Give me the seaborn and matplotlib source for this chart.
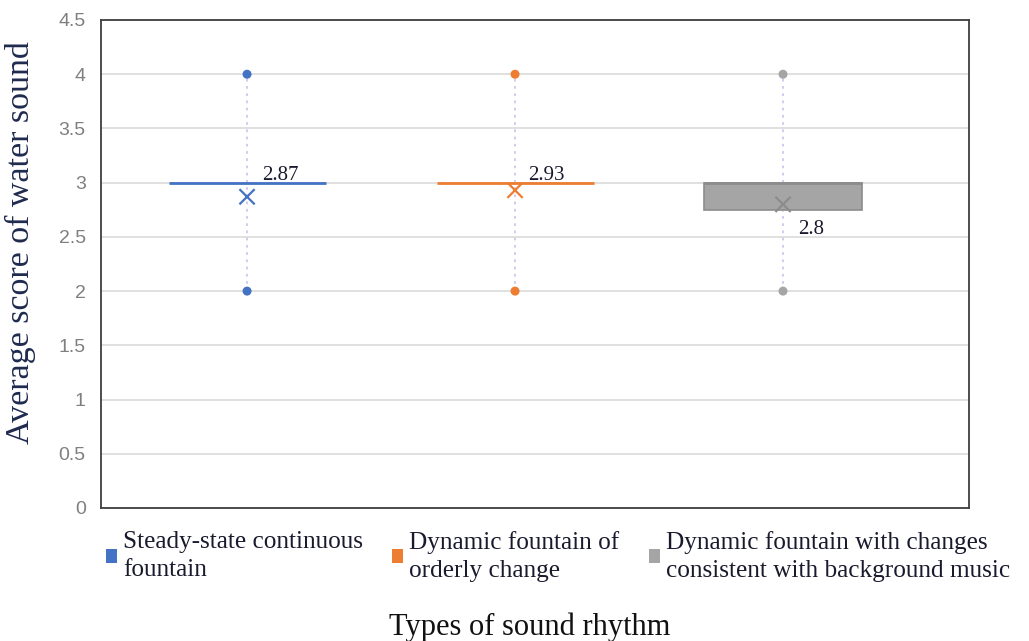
import matplotlib
matplotlib.use("Agg")
import matplotlib.pyplot as plt
import seaborn as sns
import numpy as np
import pandas as pd
from matplotlib.patches import Patch

# ---- data ----
categories = ["Steady-state continuous\nfountain",
              "Dynamic fountain of\norderly change",
              "Dynamic fountain with changes\nconsistent with background music"]
q1 = [3.0, 3.0, 2.75]
median = [3.0, 3.0, 3.0]
q3 = [3.0, 3.0, 3.0]
low = [2.0, 2.0, 2.0]
high = [4.0, 4.0, 4.0]
means = [2.87, 2.93, 2.80]
mean_labels = ["2.87", "2.93", "2.8"]
y_ticks = [0, 0.5, 1, 1.5, 2, 2.5, 3, 3.5, 4, 4.5]

colors = ["#4472C4", "#ED7D31", "#A5A5A5"]
edge_colors = ["#4472C4", "#ED7D31", "#8C8C8C"]

sns.set_theme(style="white")
plt.rcParams["font.family"] = ["Liberation Serif", "DejaVu Serif"]

fig = plt.figure(figsize=(10.29, 6.41), dpi=100)
ax = fig.add_axes([101/1029, 1-508/641, 868/1029, 488/641])

df = pd.DataFrame({"cat": categories, "q1": q1, "q3": q3,
                   "h": np.array(q3) - np.array(q1)})

# whiskers (dotted)
ax.vlines(np.arange(len(categories)), low, high, colors="#C9C9F0",
          linestyles=(0, (1.5, 2.5)), linewidth=1.3, zorder=1)

# boxes (single call so that bottom aligns with each bar)
sns.barplot(data=df, x="cat", y="h", color=colors[2],
            bottom=df["q1"].to_numpy(), width=0.586, ax=ax,
            linewidth=1.2, zorder=2)
for p, fc, ec, h in zip(ax.patches, colors, edge_colors, df["h"]):
    p.set_facecolor(fc)
    p.set_edgecolor(ec)
    if h == 0:
        p.set_linewidth(0)

# medians
ax.hlines(median, np.arange(3) - 0.293, np.arange(3) + 0.293,
          colors=edge_colors, linewidth=2, zorder=3)

# outliers (min / max)
pts = pd.DataFrame({"cat": categories * 2, "v": low + high,
                    "c": categories * 2})
sns.scatterplot(data=pts, x="cat", y="v", hue="c", palette=colors,
                s=42, linewidth=0, legend=False, ax=ax, zorder=4)

# means
mdf = pd.DataFrame({"cat": categories, "m": means})
sns.scatterplot(data=mdf, x="cat", y="m", hue="cat", palette=edge_colors,
                marker="x", s=120, linewidth=1.6, legend=False, ax=ax,
                zorder=5)

# labels for means
offsets = [(0.055, 0.028, "above"), (0.05, 0.028, "above"), (0.057, -0.27, "below")]
for i, (lab, m) in enumerate(zip(mean_labels, means)):
    dx, dy, where = offsets[i]
    base = median[i] if where == "above" else m
    ax.text(i + dx, base + dy, lab, ha="left", va="baseline", fontsize=15,
            color="#1a1a2e")

ax.set_xlim(-0.545, 2.694)
ax.set_ylim(0, 4.5)
ax.set_yticks(y_ticks)
ax.set_yticklabels([f"{t:g}" for t in y_ticks], fontfamily="Liberation Sans",
                   fontsize=14, color="#7f7f7f")
ax.tick_params(axis="y", length=0, pad=11)
ax.set_xticks([])
ax.set_xlabel("")
ax.set_ylabel("Average score of water sound", fontsize=24.5, color="#1F2A4F")
ax.yaxis.set_label_coords(-0.075, (508-243)/488)
ax.yaxis.grid(True, color="#DADADA", linewidth=1.2)
ax.set_axisbelow(True)
for s in ax.spines.values():
    s.set_visible(True)
    s.set_color("#3f3f3f")
    s.set_linewidth(1.3)

handles = [Patch(facecolor=c, edgecolor="none") for c in colors]
leg = fig.legend(handles, categories, loc="upper left",
                 bbox_to_anchor=(106/1029, 1-531/641), ncol=3, frameon=False,
                 fontsize=18.2, handlelength=0.43, handleheight=0.43,
                 handletextpad=0.25, columnspacing=1.15, borderpad=0,
                 borderaxespad=0, labelcolor="#1a1a2e", labelspacing=0.2)
for t in leg.get_texts():
    t.set_linespacing(1.35)

fig.text(530/1029, 1-627/641, "Types of sound rhythm", ha="center",
         va="center", fontsize=22, color="#111111")

fig.savefig("out.png", dpi=100)
